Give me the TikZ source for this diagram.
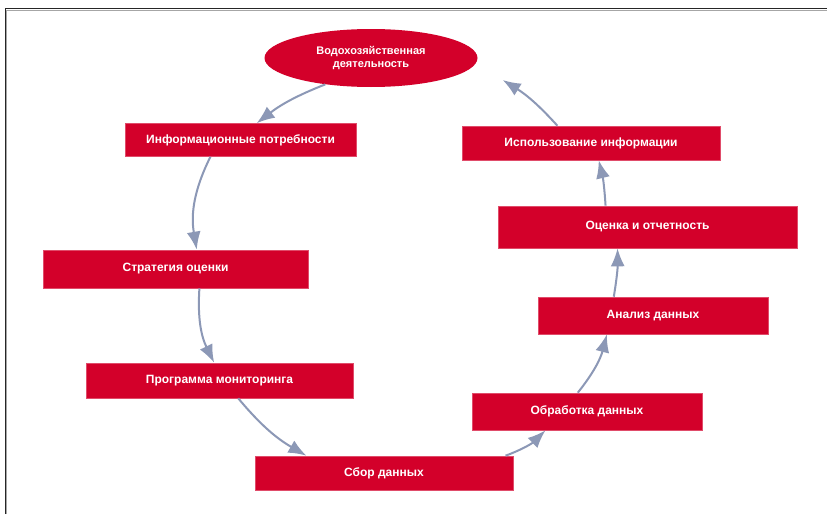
\documentclass[tikz,border=0pt]{standalone}
\usepackage{fontspec}
\setmainfont{Liberation Sans}
\usetikzlibrary{shapes.geometric,arrows.meta,calc}
\definecolor{boxred}{HTML}{D3002A}
\definecolor{arrcol}{HTML}{8C98B6}
\tikzset{
  stepbox/.style={draw=boxred!70, fill=boxred, text=white, font=\fontsize{12}{14}\bfseries\selectfont, inner sep=0pt, line width=0.6pt},
  arr/.style={draw=arrcol, line width=2pt, -{Latex[length=18pt,width=14pt]}}
}
\begin{document}
\begin{tikzpicture}[x=1pt,y=-1pt]
\useasboundingbox (0,0) rectangle (827,514);
\fill[white] (0,0) rectangle (827,514);
% frame
\draw[black!85, line width=1pt] (5,514) -- (5,8.5) -- (827,8.5);
\draw[black!35, line width=0.6pt] (6.5,514) -- (6.5,10) -- (827,10);

\node[ellipse, fill=boxred, text=white, minimum width=213pt, minimum height=58pt, inner sep=0pt,
  font=\fontsize{11}{13}\bfseries\selectfont, align=center] (ell) at (371,58) {Водохозяйственная\\деятельность};
\node[stepbox, minimum width=231pt, minimum height=33pt] (info) at (240.5,140) {Информационные потребности};
\node[stepbox, minimum width=258pt, minimum height=34pt] (use) at (591,143) {Использование информации};
\node[stepbox, minimum width=265pt, minimum height=38pt] (strat) at (175.5,269) {Стратегия оценки};
\node[stepbox, minimum width=299pt, minimum height=42pt] (eval) at (647.5,227) {Оценка и отчетность};
\node[stepbox, minimum width=267pt, minimum height=35pt] (prog) at (219.5,380.5) {Программа мониторинга};
\node[stepbox, minimum width=230pt, minimum height=37pt] (anal) at (653,315.5) {Анализ данных};
\node[stepbox, minimum width=230pt, minimum height=37pt] (proc) at (587,411.5) {Обработка данных};
\node[stepbox, minimum width=258pt, minimum height=34pt] (coll) at (384,473) {Сбор данных};
\coordinate (ellend) at ($(ell.east)+(25,22)$);

\draw[arr] (ell.-150) to[bend right=8] ($(info.north west)!0.57!(info.north east)$);
\draw[arr] ($(info.south west)!0.37!(info.south east)$) to[bend right=18] ($(strat.north west)!0.58!(strat.north east)$);
\draw[arr] ($(strat.south west)!0.59!(strat.south east)$) to[bend right=15] ($(prog.north west)!0.48!(prog.north east)$);
\draw[arr] ($(prog.south west)!0.57!(prog.south east)$) to[bend right=10] ($(coll.north west)!0.2!(coll.north east)$);
\draw[arr] ($(coll.north west)!0.97!(coll.north east)$) to[bend right=12] ($(proc.south west)!0.32!(proc.south east)$);
\draw[arr] ($(proc.north west)!0.46!(proc.north east)$) to[bend right=12] ($(anal.south west)!0.3!(anal.south east)$);
\draw[arr] ($(anal.north west)!0.33!(anal.north east)$) to[bend right=5] ($(eval.south west)!0.4!(eval.south east)$);
\draw[arr] ($(eval.north west)!0.36!(eval.north east)$) to[bend right=5] ($(use.south west)!0.53!(use.south east)$);
\draw[arr] ($(use.north west)!0.37!(use.north east)$) to[bend right=8] (ellend);
\end{tikzpicture}
\end{document}
